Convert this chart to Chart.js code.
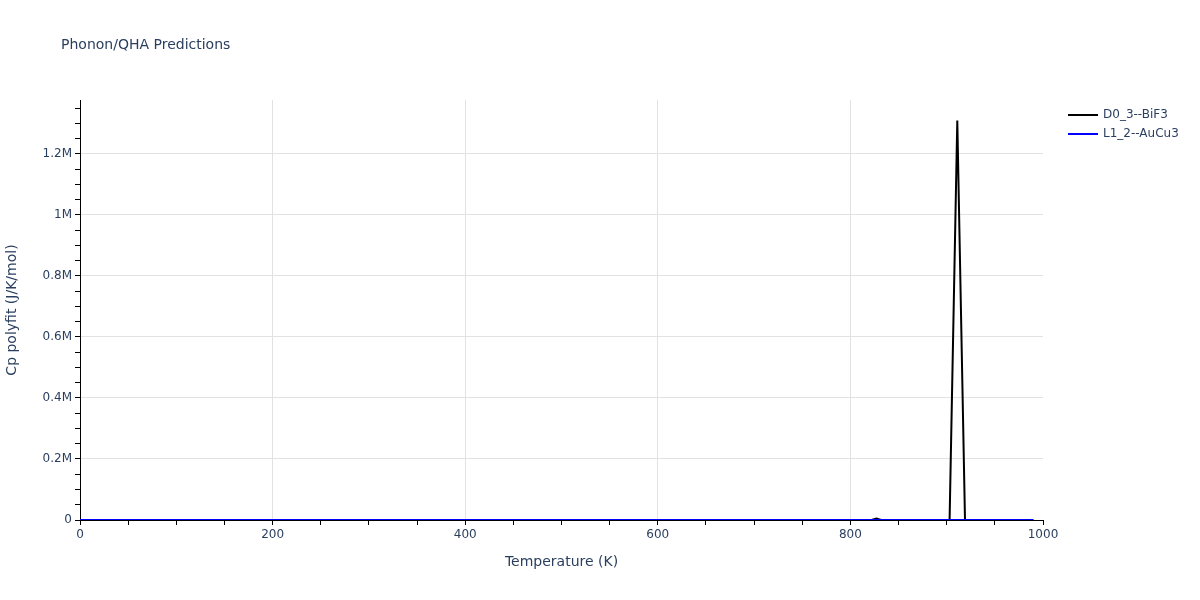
<!DOCTYPE html>
<html>
<head>
<meta charset="utf-8">
<script src="https://cdn.jsdelivr.net/npm/chart.js@4.4.1/dist/chart.umd.min.js"></script>
<style>
html,body{margin:0;padding:0;background:#fff;}
#wrap{position:relative;width:1200px;height:600px;}
</style>
</head>
<body>
<div id="wrap"><canvas id="c" width="1200" height="600"></canvas></div>
<script>
// Data
const chartTitle = "Phonon/QHA Predictions";
const xTitle = "Temperature (K)";
const yTitle = "Cp polyfit (J/K/mol)";
const seriesNames = ["D0_3--BiF3", "L1_2--AuCu3"];
const seriesColors = ["#000000", "#0000ff"];

const bif3Temps  = [0, 100, 200, 300, 400, 500, 600, 700, 800, 822, 827, 832, 903, 911, 919, 990];
const bif3Values = [0, 60, 80, 90, 95, 100, 105, 110, 115, 0, 5000, 0, 0, 1310000, 0, 0];

const aucu3Temps  = [0, 100, 200, 300, 400, 500, 600, 700, 800, 900, 990];
const aucu3Values = [0, 70, 90, 95, 98, 100, 102, 104, 106, 108, 110];

const xMajorTicks = [0, 200, 400, 600, 800, 1000];
const xMinorStep = 50;
const yMajorTicks = [0, 200000, 400000, 600000, 800000, 1000000, 1200000];
const yMinorStep = 50000;
const yLabels = ["0", "0.2M", "0.4M", "0.6M", "0.8M", "1M", "1.2M"];
const xRange = [0, 1000];
const yRange = [0, 1377000];

const toPts = (xs, ys) => xs.map((x, i) => ({x: x, y: ys[i]}));
const stepsIn = (lo, hi, step) => { const a = []; for (let v = lo; v <= hi + 1e-9; v += step) a.push(Math.round(v)); return a; };

const FONT = "'DejaVu Sans', Verdana, sans-serif";
const TEXT = "#2a3f5f";
const GRID = "#e2e2e2";
const CLEAR = 'rgba(0,0,0,0)';

const overlay = {
  id: 'overlay',
  afterDraw(chart) {
    const ctx = chart.ctx;
    ctx.save();
    ctx.fillStyle = TEXT;
    ctx.font = "14px " + FONT;
    ctx.textBaseline = 'middle';
    ctx.textAlign = 'left';
    ctx.fillText(chartTitle, 61, 45);
    ctx.font = "12px " + FONT;
    chart.data.datasets.forEach((ds, i) => {
      const y = 115 + i * 19;
      ctx.strokeStyle = ds.borderColor;
      ctx.lineWidth = 2;
      ctx.beginPath();
      ctx.moveTo(1068, y);
      ctx.lineTo(1098, y);
      ctx.stroke();
      ctx.fillStyle = TEXT;
      ctx.fillText(ds.label, 1103, y);
    });
    ctx.restore();
  }
};

new Chart(document.getElementById('c'), {
  type: 'line',
  data: {
    datasets: [
      {label: seriesNames[0], data: toPts(bif3Temps, bif3Values), borderColor: seriesColors[0], backgroundColor: seriesColors[0], borderWidth: 2, pointRadius: 0, tension: 0, fill: false, order: 1},
      {label: seriesNames[1], data: toPts(aucu3Temps, aucu3Values), borderColor: seriesColors[1], backgroundColor: seriesColors[1], borderWidth: 2, pointRadius: 0, tension: 0, fill: false, order: 0}
    ]
  },
  options: {
    responsive: false,
    animation: false,
    devicePixelRatio: 1,
    layout: {padding: {top: 100, right: 157, left: 0, bottom: 0}},
    plugins: {legend: {display: false}, title: {display: false}, tooltip: {enabled: false}},
    scales: {
      x: {
        type: 'linear', min: xRange[0], max: xRange[1],
        afterFit(s) { s.height = 80; },
        afterBuildTicks(s) { s.ticks = stepsIn(xRange[0], xRange[1], xMinorStep).map(v => ({value: v})); },
        ticks: {
          autoSkip: false, maxRotation: 0, minRotation: 0, padding: 3,
          color: TEXT, font: {family: FONT, size: 12},
          callback: v => xMajorTicks.includes(Math.round(v)) ? String(Math.round(v)) : ''
        },
        grid: {
          drawOnChartArea: true, tickLength: 5, lineWidth: 1,
          color: c => { const v = c.tick ? Math.round(c.tick.value) : -1; return (xMajorTicks.includes(v) && v > xRange[0] && v < xRange[1]) ? GRID : CLEAR; },
          tickColor: '#000'
        },
        border: {display: true, color: '#000', width: 1},
        title: {display: true, text: xTitle, color: TEXT, font: {family: FONT, size: 14}, padding: {top: 0, bottom: 29}}
      },
      y: {
        type: 'linear', min: yRange[0], max: yRange[1],
        afterFit(s) { s.width = 80; },
        afterBuildTicks(s) { s.ticks = stepsIn(yRange[0], yRange[1] - 1, yMinorStep).map(v => ({value: v})); },
        ticks: {
          autoSkip: false, padding: 3,
          color: TEXT, font: {family: FONT, size: 12},
          callback: v => { const i = yMajorTicks.indexOf(Math.round(v)); return i >= 0 ? yLabels[i] : ''; }
        },
        grid: {
          drawOnChartArea: true, tickLength: 5, lineWidth: 1,
          color: c => { const v = c.tick ? Math.round(c.tick.value) : -1; return (yMajorTicks.includes(v) && v > 0) ? GRID : CLEAR; },
          tickColor: '#000'
        },
        border: {display: true, color: '#000', width: 1},
        title: {display: true, text: yTitle, color: TEXT, font: {family: FONT, size: 14}, padding: {top: 4, bottom: 0}}
      }
    }
  },
  plugins: [overlay]
});
</script>
</body>
</html>
